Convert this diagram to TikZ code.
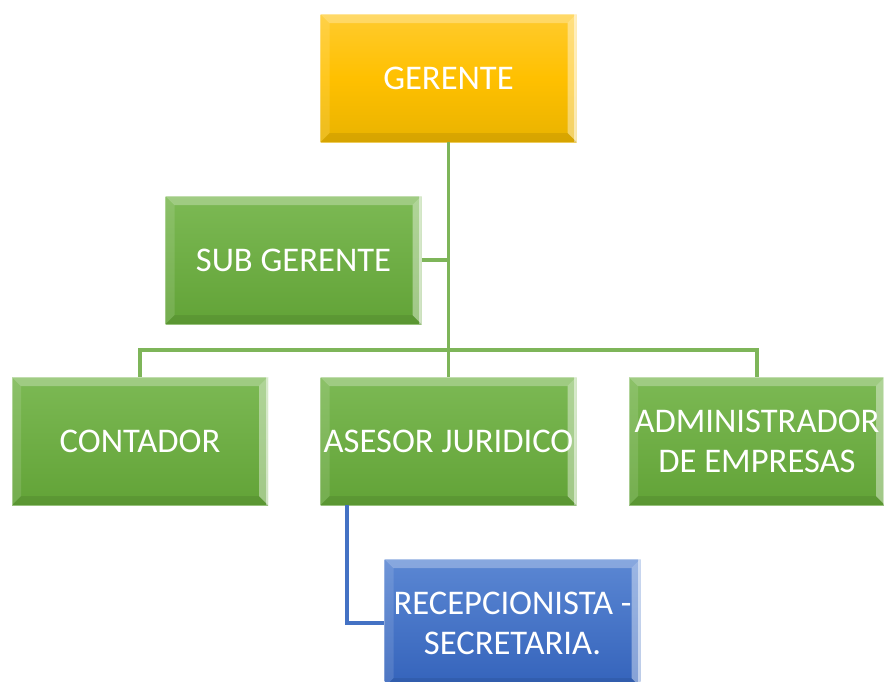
\documentclass[tikz,border=0pt]{standalone}
\usepackage{fontspec}
\setmainfont{Carlito}
\definecolor{ambar}{HTML}{FFC000}
\definecolor{ambarA}{HTML}{FFCB2E}
\definecolor{ambarB}{HTML}{E9B300}
\definecolor{verde}{HTML}{70AD47}
\definecolor{verdeA}{HTML}{7CB954}
\definecolor{verdeB}{HTML}{62A337}
\definecolor{azul}{HTML}{4472C4}
\definecolor{azulA}{HTML}{5B87D3}
\definecolor{azulB}{HTML}{3463BB}
\begin{document}
\begin{tikzpicture}[x=.5pt,y=-.5pt,
	cargo/.style={minimum width=128pt,minimum height=64pt,inner sep=0pt,
		text=white,align=center,font=\fontsize{17.3}{20}\selectfont,
		draw=white,draw opacity=.35,line width=.4pt,
		path picture={
			\def\bv{4.5pt}
			\coordinate (nw) at (path picture bounding box.north west);
			\coordinate (ne) at (path picture bounding box.north east);
			\coordinate (sw) at (path picture bounding box.south west);
			\coordinate (se) at (path picture bounding box.south east);
			\fill[white,opacity=.28] (nw)--(ne)--([shift={(-\bv,-\bv)}]ne)--([shift={(\bv,-\bv)}]nw)--cycle;
			\fill[white,opacity=.12] (nw)--(sw)--([shift={(\bv,\bv)}]sw)--([shift={(\bv,-\bv)}]nw)--cycle;
			\fill[white,opacity=.4] (ne)--(se)--([shift={(-\bv,\bv)}]se)--([shift={(-\bv,-\bv)}]ne)--cycle;
			\fill[white,opacity=.5] (ne)--(se)--([xshift=-1.2pt]se)--([xshift=-1.2pt]ne)--cycle;
			\fill[black,opacity=.08] (sw)--(se)--([shift={(-\bv,\bv)}]se)--([shift={(\bv,\bv)}]sw)--cycle;
		}},
	amarillo/.style={cargo,top color=ambarA,bottom color=ambarB,middle color=ambar},
	verdoso/.style={cargo,top color=verdeA,bottom color=verdeB},
	azulado/.style={cargo,top color=azulA,bottom color=azulB},
	lineaV/.style={draw=verde!90!white,line width=1.7pt},
	lineaA/.style={draw=azul,line width=1.7pt}]
	\useasboundingbox (0,0) rectangle (884,681);
	% cargos
	\node[amarillo] (ger) at (448.5,78) {GERENTE};
	\node[verdoso] (sub) at (293.5,260) {SUB GERENTE};
	\node[verdoso] (con) at (140,441) {CONTADOR};
	\node[verdoso] (ase) at (448.5,441) {ASESOR JURIDICO};
	\node[verdoso] (adm) at (757,441) {ADMINISTRADOR\\DE EMPRESAS};
	\node[azulado] (rec) at (512.5,623) {RECEPCIONISTA -\\SECRETARIA.};
	\coordinate (bus) at (448.5,350);
	% conexiones
	\draw[lineaV] (ger.south)--(ase.north) (sub.east)--(sub.east-|ger.south);
	\draw[lineaV] (con.north)|-(bus)-|(adm.north);
	\draw[lineaA] ([xshift=13.5pt]ase.south west)|-(rec.west);
\end{tikzpicture}
\end{document}
